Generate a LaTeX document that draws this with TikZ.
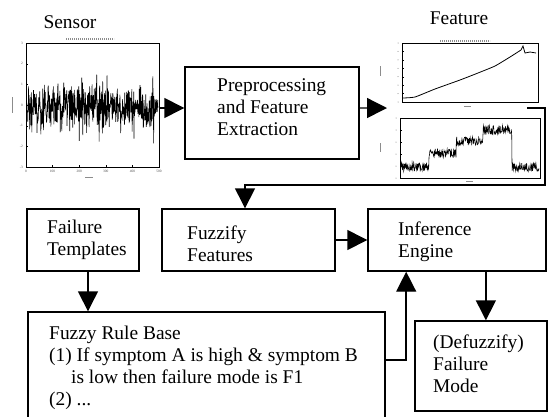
\documentclass[tikz,border=0pt]{standalone}
\usepackage{fontspec}
\setmainfont{Liberation Serif}
\usetikzlibrary{arrows.meta}

\begin{document}
\begin{tikzpicture}[x=1bp,y=-1bp,
  box/.style={draw, line width=1.4bp, inner sep=0, fill=none},
  plotframe/.style={draw, line width=0.7bp, inner sep=0},
  txt/.style={inner sep=0, align=left, anchor=north west, font=\fontsize{19.5}{22}\selectfont},
  lbl/.style={inner sep=0, anchor=base, font=\fontsize{19.5}{22}\selectfont},
  conn/.style={line width=1.4bp, -{Triangle[length=20bp,width=20bp]}},
  wire/.style={line width=1.4bp},
  ticklbl/.style={inner sep=0, font=\fontsize{3.5}{4}\selectfont, text=black!70},
  smear/.style={line width=1.3bp, black!45, dash pattern=on 1.2bp off 0.8bp},
]
\useasboundingbox (0,0) rectangle (548,416);
\clip (0,0) rectangle (548,416);

% ---------- sensor signal plot ----------
\node[plotframe, minimum width=133bp, minimum height=124bp] (sensor) at (92.5,105) {};
\pgfmathsetseed{11}
\draw[line width=0.6bp] plot[domain=27.5:158, samples=480, variable=\t]
  (\t, {107 + 17*rand + 40*rand*rand*rand});
\draw[smear] (66,39) -- (114,39);
\draw[line width=0.6bp, black!45] (12,97) -- (12,113);
\draw[line width=0.6bp, black!45] (85,177) -- (93,177);
\foreach \v [count=\i from 0] in {3,2,1,0,-1,-2,-3}{
  \node[ticklbl, anchor=east] (sy\i) at (23,{43+\i*124/6}) {\v};
  \draw[line width=0.3bp] (26,{43+\i*124/6}) -- ++(2,0);
}
\foreach \v [count=\i from 0] in {0,100,200,300,400,500}{
  \node[ticklbl, anchor=north] (sx\i) at ({26+\i*133/5},170) {\v};
  \draw[line width=0.3bp] ({26+\i*133/5},167) -- ++(0,-2);
}

% ---------- feature plots ----------
\node[plotframe, minimum width=136bp, minimum height=59bp] (feat1) at (470,72.5) {};
\draw[line width=0.8bp] plot[smooth, tension=0.3] coordinates
  {(403,98) (415,97) (435,89) (460,80) (478,73) (495,66) (510,57) (521,50)}
  -- (523,46) -- (525,53) -- (530,52) -- (536,53);
\draw[smear] (440,41) -- (490,41);
\draw[line width=0.6bp, black!45] (380,66) -- (380,76);
\draw[line width=0.6bp, black!45] (464,106) -- (471,106);
\foreach \i in {0,...,7}{
  \draw[line width=0.3bp] (402,{43+\i*59/7}) -- ++(2,0);
  \fill[black!55] (398,{43+\i*59/7}) circle (0.5bp);
}

\node[plotframe, minimum width=140bp, minimum height=60bp] (feat2) at (470,148) {};
\pgfmathsetseed{5}
\draw[line width=0.55bp] plot[domain=401:539, samples=360, variable=\t]
  (\t, {((\t<429) ? 167 : ((\t<456) ? 153 : ((\t<483) ? 141 : ((\t<512) ? 130 : 167)))) + 4.5*rand});
\draw[line width=0.6bp, black!45] (380,143) -- (380,152);
\draw[line width=0.6bp, black!45] (466,181) -- (473,181);
\foreach \i in {0,...,5}{
  \draw[line width=0.3bp] (400,{118+\i*12}) -- ++(2,0);
  \fill[black!55] (396,{118+\i*12}) circle (0.5bp);
}

% ---------- blocks ----------
\node[box, minimum width=174bp, minimum height=92bp] (prep) at (272,113) {};
\node[box, minimum width=112bp, minimum height=62bp] (failT) at (83,240) {};
\node[box, minimum width=173bp, minimum height=62bp] (fuzz) at (248.5,240) {};
\node[box, minimum width=178bp, minimum height=62bp] (infer) at (457,240) {};
\node[box, minimum width=357bp, minimum height=113bp] (rules) at (206.5,368.5) {};
\node[box, minimum width=132bp, minimum height=90bp] (defuzz) at (481,366) {};

% ---------- texts ----------
\node[lbl] (sensorlbl) at (70,28) {Sensor};
\node[lbl] (featlbl) at (459,24) {Feature};
\node[txt] (preptxt) at (217,78.5) {Preprocessing\\and Feature\\Extraction};
\node[txt] (failtxt) at (47,219.5) {Failure\\Templates};
\node[txt] (fuzztxt) at (187,225.5) {Fuzzify\\Features};
\node[txt] (inftxt) at (398,221.5) {Inference\\Engine};
\node[txt] (deftxt) at (433,334.5) {(Defuzzify)\\Failure\\Mode};
\node[txt] (rulestxt) at (49,325.7) {Fuzzy Rule Base\\(1) If symptom A is high \& symptom B\\\hspace*{22bp}is low then failure mode is F1\\(2) ...};

% ---------- connectors ----------
\coordinate (ftip) at (387,108);
\coordinate (floop) at (527,108);
\draw[conn] ([yshift=-3pt]sensor.east) -- ([yshift=-3pt]sensor.east -| prep.west);
\draw[conn] ([yshift=5pt]prep.east) -- (ftip);
\draw[conn] (floop) -- (545,108) -- (545,185) -| ([xshift=-3.5pt]fuzz.north);
\draw[conn] ([xshift=5pt]failT.south) -- ([xshift=5pt]failT.south |- rules.north);
\draw[conn] (fuzz) -- (infer);
\draw[conn] ([yshift=8.5pt]rules.east) -| ([xshift=-51pt]infer.south);
\draw[conn] ([xshift=29pt]infer.south) -- ([xshift=29pt]infer.south |- defuzz.north);
\end{tikzpicture}
\end{document}
